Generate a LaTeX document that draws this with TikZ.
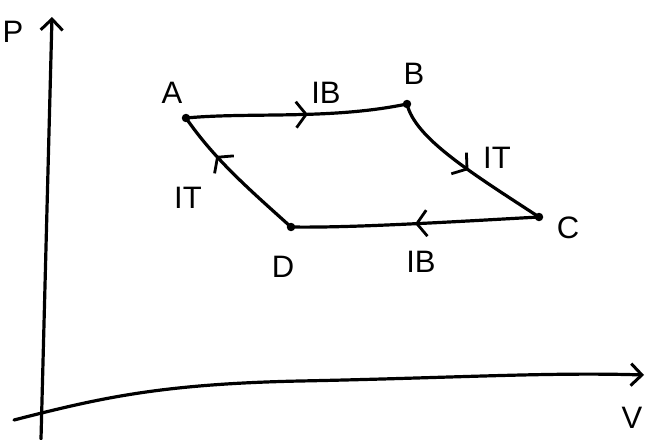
\documentclass[tikz,border=0pt]{standalone}
\usepackage{fontspec}
\setmainfont{Liberation Sans}
\usetikzlibrary{arrows.meta,decorations.markings}
\begin{document}
\begin{tikzpicture}[x=1pt,y=-1pt,
  ink/.style={line width=3.2pt,line cap=round,line join=round},
  barb/.style={-{Straight Barb[length=11pt,width=22pt,line width=3pt]}},
  midarrow/.style={postaction={decorate},decoration={markings,mark=at position #1 with {\arrow{Straight Barb[length=10pt,width=26pt,line width=2.8pt]}}}},
  statept/.style={circle,fill,inner sep=3pt},
  lbl/.style={font=\fontsize{31}{31}\selectfont,inner sep=0pt}]
\useasboundingbox (0,0) rectangle (645,439);
% axes
\coordinate (ybot) at (41,439);
\coordinate (ytop) at (52,17);
\coordinate (xleft) at (14,420);
\coordinate (xmid) at (300,381);
\coordinate (xright) at (644,375);
\draw[ink,barb] (ybot) -- (ytop);
\draw[ink,barb] (xleft) .. controls (100,398) and (160,384) .. (xmid) .. controls (450,378) and (550,372) .. (xright);
\node[lbl] (P) at (13,32) {P};
\node[lbl] (V) at (632,418) {V};
% states
\node[statept] (A) at (186,118) {};
\node[statept] (B) at (407,104) {};
\node[statept] (C) at (539,217) {};
\node[statept] (D) at (291,227) {};
\node[lbl] (lA) at (172,93) {A};
\node[lbl] (lB) at (414,74) {B};
\node[lbl] (lC) at (568,228) {C};
\node[lbl] (lD) at (283,267) {D};
% processes
\draw[ink,midarrow=0.55] (A.center) .. controls (250,112) and (330,120) .. (B.center);
\draw[ink,midarrow=0.52] (B.center) .. controls (415,138) and (470,172) .. (C.center);
\draw[ink,midarrow=0.5] (C.center) .. controls (450,222) and (350,228) .. (D.center);
\draw[ink,midarrow=0.68] (D.center) .. controls (250,190) and (215,160) .. (A.center);
\node[lbl] (lAB) at (326,93) {IB};
\node[lbl] (lBC) at (497,158) {IT};
\node[lbl] (lCD) at (421,262) {IB};
\node[lbl] (lDA) at (188,198) {IT};
\end{tikzpicture}
\end{document}
